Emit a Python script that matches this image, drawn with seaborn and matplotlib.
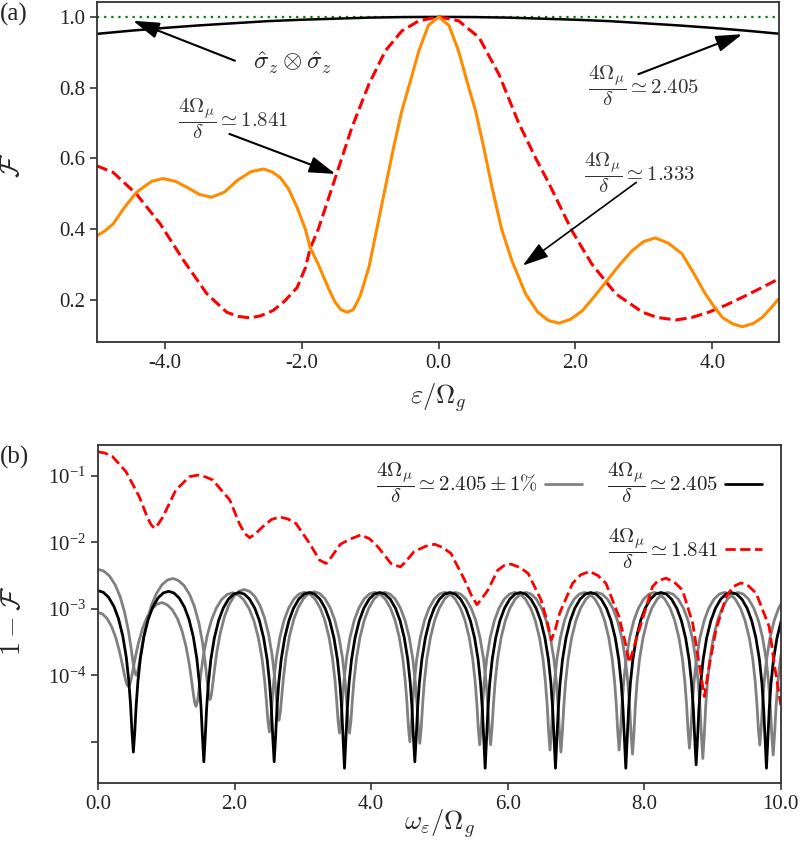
import numpy as np
import pandas as pd
import seaborn as sns
import matplotlib
matplotlib.use('Agg')
import matplotlib.pyplot as plt
from matplotlib.lines import Line2D
from matplotlib.ticker import FixedLocator, FixedFormatter, FormatStrFormatter, NullLocator

# ---- panel (a): fidelity vs eps / Omega_g ----
eps_orange = [-5.0, -4.88, -4.76, -4.6, -4.42, -4.2, -4.03, -3.85, -3.68, -3.5, -3.32, -3.13, -2.95,
              -2.75, -2.56, -2.44, -2.32, -2.2, -2.07, -1.95, -1.88, -1.76, -1.61, -1.52, -1.43, -1.34,
              -1.25, -1.15, -1.02, -0.9, -0.78, -0.66, -0.54, -0.42, -0.29, -0.15, 0.0, 0.15, 0.29,
              0.42, 0.54, 0.66, 0.78, 0.92, 1.07, 1.27, 1.45, 1.61, 1.76, 1.93, 2.1, 2.28, 2.46, 2.65,
              2.83, 3.0, 3.17, 3.36, 3.56, 3.73, 3.9, 4.03, 4.15, 4.3, 4.44, 4.6, 4.73, 4.85, 4.97]
fid_orange = [0.381, 0.395, 0.415, 0.46, 0.504, 0.535, 0.543, 0.535, 0.518, 0.498, 0.49, 0.505, 0.537,
              0.562, 0.57, 0.562, 0.546, 0.515, 0.461, 0.40, 0.348, 0.30, 0.232, 0.195, 0.172, 0.165,
              0.172, 0.21, 0.292, 0.405, 0.518, 0.63, 0.734, 0.814, 0.904, 0.976, 1.0, 0.976, 0.904,
              0.814, 0.734, 0.63, 0.518, 0.40, 0.311, 0.217, 0.165, 0.141, 0.134, 0.145, 0.169, 0.21,
              0.254, 0.30, 0.339, 0.365, 0.375, 0.36, 0.33, 0.275, 0.217, 0.18, 0.15, 0.132, 0.124,
              0.133, 0.15, 0.175, 0.202]

eps_red = [-5.0, -4.76, -4.42, -4.07, -3.73, -3.39, -3.1, -2.93, -2.76, -2.6, -2.42, -2.25, -2.07,
           -1.95, -1.88, -1.76, -1.64, -1.51, -1.27, -1.02, -0.78, -0.54, -0.29, 0.0, 0.29, 0.59,
           0.88, 1.17, 1.42, 1.61, 1.95, 2.24, 2.59, 2.98, 3.2, 3.47, 3.7, 3.95, 4.2, 4.44, 4.7, 4.97]
fid_red = [0.579, 0.56, 0.499, 0.414, 0.311, 0.217, 0.165, 0.153, 0.149, 0.155, 0.17, 0.197, 0.235,
           0.29, 0.345, 0.40, 0.47, 0.546, 0.687, 0.81, 0.904, 0.96, 0.989, 1.0, 0.989, 0.942,
           0.838, 0.70, 0.60, 0.53, 0.395, 0.301, 0.217, 0.165, 0.15, 0.143, 0.15, 0.165, 0.185,
           0.207, 0.232, 0.259]

eps_black = [-5.0, -4.5, -4.0, -3.5, -3.0, -2.5, -2.0, -1.5, -1.0, -0.5, 0.0,
             0.5, 1.0, 1.5, 2.0, 2.5, 3.0, 3.5, 4.0, 4.5, 5.0]
fid_black = [0.952, 0.961, 0.969, 0.976, 0.982, 0.988, 0.992, 0.995, 0.998, 0.9995, 1.0,
             0.9995, 0.998, 0.995, 0.992, 0.988, 0.982, 0.976, 0.969, 0.961, 0.952]

# ---- panel (b): infidelity vs omega_eps / Omega_g ----
# shape of one arch: position from cusp (fraction of half-width) and height / peak
arch_u = [0.0, 0.04, 0.08, 0.13, 0.2, 0.3, 0.42, 0.55, 0.7, 0.85, 1.0]
arch_ratio = [0.0, 0.0039, 0.0157, 0.041, 0.096, 0.206, 0.376, 0.578, 0.794, 0.946, 1.0]

cusps_black = [-0.518, 0.518, 1.55, 2.58, 3.61, 4.64, 5.67, 6.70, 7.73, 8.76, 9.79, 10.82]
peaks_black = [1.86e-3, 1.82e-3, 1.75e-3, 1.75e-3, 1.75e-3, 1.75e-3, 1.75e-3, 1.75e-3, 1.75e-3,
               1.75e-3, 1.75e-3]
floors_black = [7e-6, 7e-6, 5e-6, 5e-6, 4e-6, 5e-6, 4e-6, 4e-6, 4e-6, 4.5e-6, 4e-6, 4e-6]

cusps_gray_hi = [-0.557, 0.557, 1.64, 2.65, 3.683, 4.713, 5.75, 6.78, 7.828, 8.858, 9.888, 10.95]
peaks_gray_hi = [3.8e-3, 2.75e-3, 1.9e-3, 1.78e-3, 1.75e-3, 1.75e-3, 1.75e-3, 1.75e-3, 1.75e-3,
                 1.75e-3, 1.75e-3]
floors_gray_hi = [1e-4, 1e-4, 4.3e-5, 2.1e-5, 1.35e-5, 9.5e-6, 9e-6, 7e-6, 6.5e-6, 5.6e-6, 6.3e-6, 6e-6]

cusps_gray_lo = [-0.445, 0.445, 1.436, 2.51, 3.537, 4.567, 5.59, 6.62, 7.632, 8.662, 9.692, 10.7]
peaks_gray_lo = [8.1e-4, 1.17e-3, 1.7e-3, 1.75e-3, 1.75e-3, 1.75e-3, 1.75e-3, 1.75e-3, 1.75e-3,
                 1.75e-3, 1.75e-3]
floors_gray_lo = [6.8e-5, 6.8e-5, 3.4e-5, 1.4e-5, 1.35e-5, 1e-5, 9e-6, 7.5e-6, 7.5e-6, 8e-6, 8.9e-6, 8e-6]

omega_red = [0.0, 0.1, 0.215, 0.41, 0.606, 0.728, 0.78, 0.826, 0.88, 0.95, 1.14, 1.34, 1.46, 1.58,
             1.68, 1.93, 2.07, 2.15, 2.22, 2.3, 2.41, 2.54, 2.66, 2.78, 2.9, 3.1, 3.245, 3.34, 3.42,
             3.55, 3.7, 3.85, 3.98, 4.1, 4.29, 4.36, 4.43, 4.5, 4.63, 4.8, 4.93, 5.05, 5.17, 5.37,
             5.47, 5.55, 5.62, 5.71, 5.855, 5.95, 6.05, 6.18, 6.3, 6.49, 6.58, 6.64, 6.7, 6.76, 6.95,
             7.07, 7.2, 7.32, 7.44, 7.63, 7.72, 7.78, 7.83, 7.88, 8.03, 8.12, 8.2, 8.32, 8.44, 8.56,
             8.71, 8.81, 8.88, 8.95, 9.05, 9.2, 9.3, 9.42, 9.53, 9.64, 9.83, 9.9, 10.0]
infid_red = [0.229, 0.219, 0.193, 0.115, 0.0479, 0.0229, 0.0182, 0.0162, 0.0186, 0.024, 0.061, 0.0966,
             0.102, 0.0955, 0.0861, 0.0432, 0.0191, 0.0135, 0.0117, 0.0132, 0.017, 0.0219, 0.024,
             0.0224, 0.0191, 0.00955, 0.00537, 0.00479, 0.00603, 0.00933, 0.0112, 0.0129, 0.0112,
             0.00851, 0.00479, 0.00447, 0.00427, 0.00501, 0.00724, 0.0087, 0.00933, 0.0083, 0.00676,
             0.00269, 0.00158, 0.00115, 0.00141, 0.00191, 0.0038, 0.00447, 0.00468, 0.00417, 0.00339,
             0.00135, 0.00063, 0.000339, 0.0005, 0.000851, 0.0024, 0.00324, 0.00363, 0.00316, 0.0024,
             0.000759, 0.000316, 0.000155, 0.000224, 0.000339, 0.00107, 0.00214, 0.00263, 0.00288,
             0.00251, 0.00191, 0.000603, 0.000135, 0.0000479, 0.000135, 0.000479, 0.00151, 0.00214,
             0.00245, 0.00219, 0.0017, 0.000537, 0.000158, 0.0000355]

frac = r'\dfrac{4\Omega_\mu}{\delta}'


def arches(cusps, peaks, floors):
    xs, ys = [], []
    for i in range(len(cusps) - 1):
        a, b = cusps[i], cusps[i + 1]
        half = (b - a) / 2
        for u, r in zip(arch_u, arch_ratio):
            xs.append(a + u * half)
            ys.append(peaks[i] * r + floors[i])
        for u, r in zip(arch_u[-2:0:-1], arch_ratio[-2:0:-1]):
            xs.append(b - u * half)
            ys.append(peaks[i] * r + floors[i + 1])
    xs.append(cusps[-1])
    ys.append(floors[-1])
    return pd.DataFrame({'w': xs, 'infid': ys})


sns.set_theme(style='ticks')
plt.rcParams['font.family'] = ['Liberation Serif', 'DejaVu Serif']
plt.rcParams['mathtext.fontset'] = 'cm'
plt.rcParams['axes.unicode_minus'] = False
plt.rcParams['axes.edgecolor'] = '#333333'
plt.rcParams['axes.linewidth'] = 1.3

fig = plt.figure(figsize=(8.0, 8.43), dpi=100)
ax1 = fig.add_axes([0.121, 0.594, 0.853, 0.404])
ax2 = fig.add_axes([0.1225, 0.0712, 0.8535, 0.4008])

# panel (a)
ax1.axhline(1.0, color='#008000', lw=1.6, ls=(0, (1, 2.2)), zorder=1)
sns.lineplot(x=eps_black, y=fid_black, ax=ax1, color='black', lw=1.8, sort=False, estimator=None)
sns.lineplot(x=eps_red, y=fid_red, ax=ax1, color='#ff0000', lw=2.2, ls='--', sort=False, estimator=None)
sns.lineplot(x=eps_orange, y=fid_orange, ax=ax1, color='#ff8c00', lw=2.2, sort=False, estimator=None)
ax1.set_xlim(-5.0, 4.98)
ax1.set_ylim(0.08, 1.043)
ax1.set_xticks([-4, -2, 0, 2, 4])
ax1.set_yticks([0.2, 0.4, 0.6, 0.8, 1.0])
ax1.xaxis.set_major_formatter(FormatStrFormatter('%.1f'))
ax1.yaxis.set_major_formatter(FormatStrFormatter('%.1f'))
ax1.set_xlabel(r'$\varepsilon/\Omega_g$', fontsize=19)
ax1.set_ylabel(r'$\mathcal{F}$', fontsize=20)
ax1.xaxis.set_label_coords(0.5, -0.115)
ax1.yaxis.set_label_coords(-0.105, 0.52)

arrow = dict(arrowstyle='-|>,head_length=0.8,head_width=0.25', color='black', lw=1.5,
             mutation_scale=20, shrinkA=0, shrinkB=0)
ax1.annotate('', xy=(-4.47, 0.989), xytext=(-2.98, 0.876), arrowprops=arrow)
ax1.annotate('', xy=(-1.51, 0.556), xytext=(-3.06, 0.669), arrowprops=arrow)
ax1.annotate('', xy=(4.44, 0.951), xytext=(2.92, 0.838), arrowprops=arrow)
ax1.annotate('', xy=(1.23, 0.297), xytext=(2.89, 0.532), arrowprops=dict(arrow, lw=1.2))
ax1.text(-2.14, 0.870, r'$\hat{\sigma}_z\otimes\hat{\sigma}_z$', fontsize=18, ha='center', va='center')
ax1.text(-3.0, 0.712, '$' + frac + r'\simeq 1.841$', fontsize=15, ha='center', va='center', color='#333333')
ax1.text(2.99, 0.805, '$' + frac + r'\simeq 2.405$', fontsize=15, ha='center', va='center', color='#333333')
ax1.text(2.94, 0.560, '$' + frac + r'\simeq 1.333$', fontsize=15, ha='center', va='center', color='#333333')

# panel (b)
for cusps, peaks, floors in [(cusps_gray_hi, peaks_gray_hi, floors_gray_hi),
                             (cusps_gray_lo, peaks_gray_lo, floors_gray_lo)]:
    sns.lineplot(data=arches(cusps, peaks, floors), x='w', y='infid', ax=ax2, color='#808080',
                 lw=2.0, sort=False, estimator=None)
sns.lineplot(data=arches(cusps_black, peaks_black, floors_black), x='w', y='infid', ax=ax2,
             color='black', lw=2.0, sort=False, estimator=None)
sns.lineplot(x=omega_red, y=infid_red, ax=ax2, color='#ff0000', lw=2.0, ls='--', sort=False, estimator=None)
ax2.set_yscale('log')
ax2.set_xlim(0, 10)
ax2.set_ylim(10 ** -5.62, 10 ** -0.54)
ax2.set_xticks([0, 2, 4, 6, 8, 10])
ax2.xaxis.set_major_formatter(FormatStrFormatter('%.1f'))
ax2.yaxis.set_major_locator(FixedLocator([1e-1, 1e-2, 1e-3, 1e-4, 1e-5]))
ax2.yaxis.set_major_formatter(FixedFormatter([r'$\mathregular{10^{-1}}$', r'$\mathregular{10^{-2}}$',
                                              r'$\mathregular{10^{-3}}$', r'$\mathregular{10^{-4}}$', '']))
ax2.yaxis.set_minor_locator(NullLocator())
ax2.set_xlabel(r'$\omega_\varepsilon/\Omega_g$', fontsize=19)
ax2.set_ylabel(r'$1-\mathcal{F}$', fontsize=20)
ax2.xaxis.set_label_coords(0.5, -0.07)
ax2.yaxis.set_label_coords(-0.105, 0.48)

handles = [Line2D([], [], color='#808080', lw=2.0),
           Line2D([], [], alpha=0),
           Line2D([], [], color='black', lw=2.0),
           Line2D([], [], color='#ff0000', lw=2.0, ls='--')]
labels = ['$' + frac + r'\simeq 2.405\pm 1\%$', '',
          '$' + frac + r'\simeq 2.405$', '$' + frac + r'\simeq 1.841$']
leg = ax2.legend(handles, labels, ncol=2, markerfirst=False, frameon=False, fontsize=15,
                 loc='upper right', bbox_to_anchor=(1.0, 1.01), handlelength=1.8,
                 handletextpad=0.3, columnspacing=1.2, labelspacing=1.0)
for t in leg.get_texts():
    t.set_color('#222222')

for ax in (ax1, ax2):
    ax.tick_params(direction='out', length=5, width=1.1, labelsize=15, colors='#222222')
    for s in ax.spines.values():
        s.set_visible(True)

fig.text(0.0, 0.983, '(a)', fontsize=18, ha='left', va='center')
fig.text(0.0, 0.457, '(b)', fontsize=18, ha='left', va='center')

fig.savefig('out.png', dpi=100)
